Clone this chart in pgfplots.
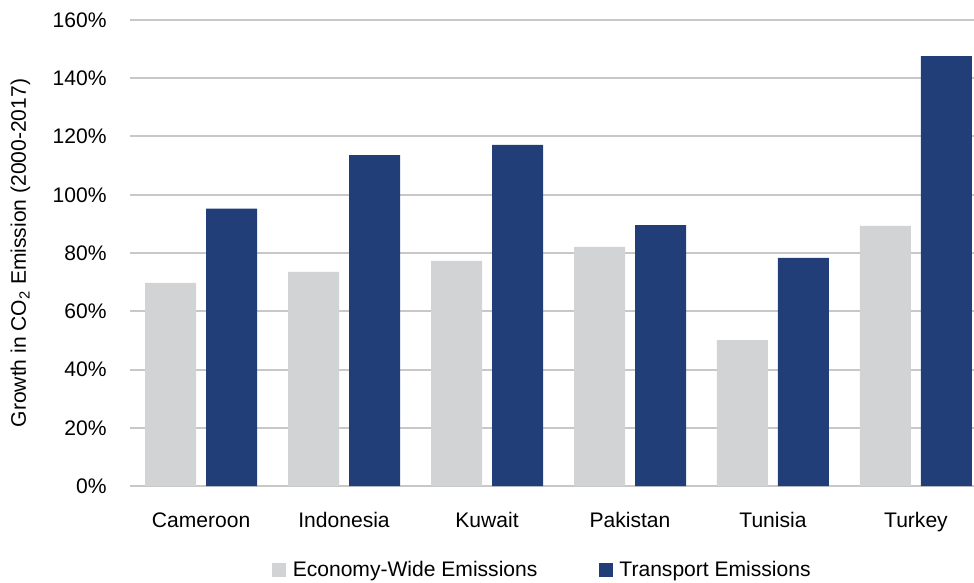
\documentclass[border=0pt]{standalone}
\usepackage{fontspec}
\setmainfont{Liberation Sans}
\usepackage{pgfplots}
\usepackage{pgfplotstable}
\pgfplotsset{compat=1.18}

\definecolor{econgrey}{HTML}{D1D3D4}
\definecolor{transnavy}{HTML}{213E79}
\definecolor{gridgrey}{HTML}{C8C8C8}

% growth 2000-2017, per cent
\pgfplotstableread{
x  econ   trans
0  69.7   95.2
1  73.5   113.6
2  77.3   117.1
3  82.1   89.6
4  50.1   78.3
5  89.3   147.6
}\growth

\begin{document}
\begin{tikzpicture}
\begin{axis}[
    name=ax,
    scale only axis,
    width=633pt, height=349.5pt,
    font=\fontsize{15.8pt}{19pt}\selectfont,
    /pgf/number format/assume math mode=true,
    ybar=7.5pt,
    bar width=38.25pt,
    xmin=-0.497, xmax=5.406,
    ymin=0, ymax=160,
    ytick={0,20,...,160},
    yticklabel={\pgfmathprintnumber{\tick}\%},
    xtick=data,
    xticklabels={Cameroon,Indonesia,Kuwait,Pakistan,Tunisia,Turkey},
    tick style={draw=none},
    yticklabel style={xshift=-14pt},
    xticklabel style={yshift=-12pt},
    axis line style={draw=none},
    ymajorgrids=true,
    major grid style={color=gridgrey, line width=1.5pt},
    ylabel={Growth in CO\textsubscript{2} Emission (2000-2017)},
    ylabel style={yshift=10pt},
    legend columns=2,
    legend style={draw=none, fill=none, at={(0.489,-0.18)}, anchor=center,
        font=\fontsize{15.8pt}{19pt}\selectfont,
        /tikz/every odd column/.append style={column sep=3pt},
        /tikz/every even column/.append style={column sep=44pt}},
    legend image code/.code={\path[#1,draw=none] (0pt,-5.25pt) rectangle (10.5pt,5.25pt);},
]
\addplot[fill=econgrey, draw=none] table[x=x, y=econ] {\growth};
\addplot[fill=transnavy, draw=none] table[x=x, y=trans] {\growth};
\legend{Economy-Wide Emissions, Transport Emissions}
\end{axis}
\pgfresetboundingbox
\path ([shift={(-97.5pt,-72pt)}]ax.south west) rectangle ([shift={(0pt,15pt)}]ax.north east);
\end{tikzpicture}
\end{document}
